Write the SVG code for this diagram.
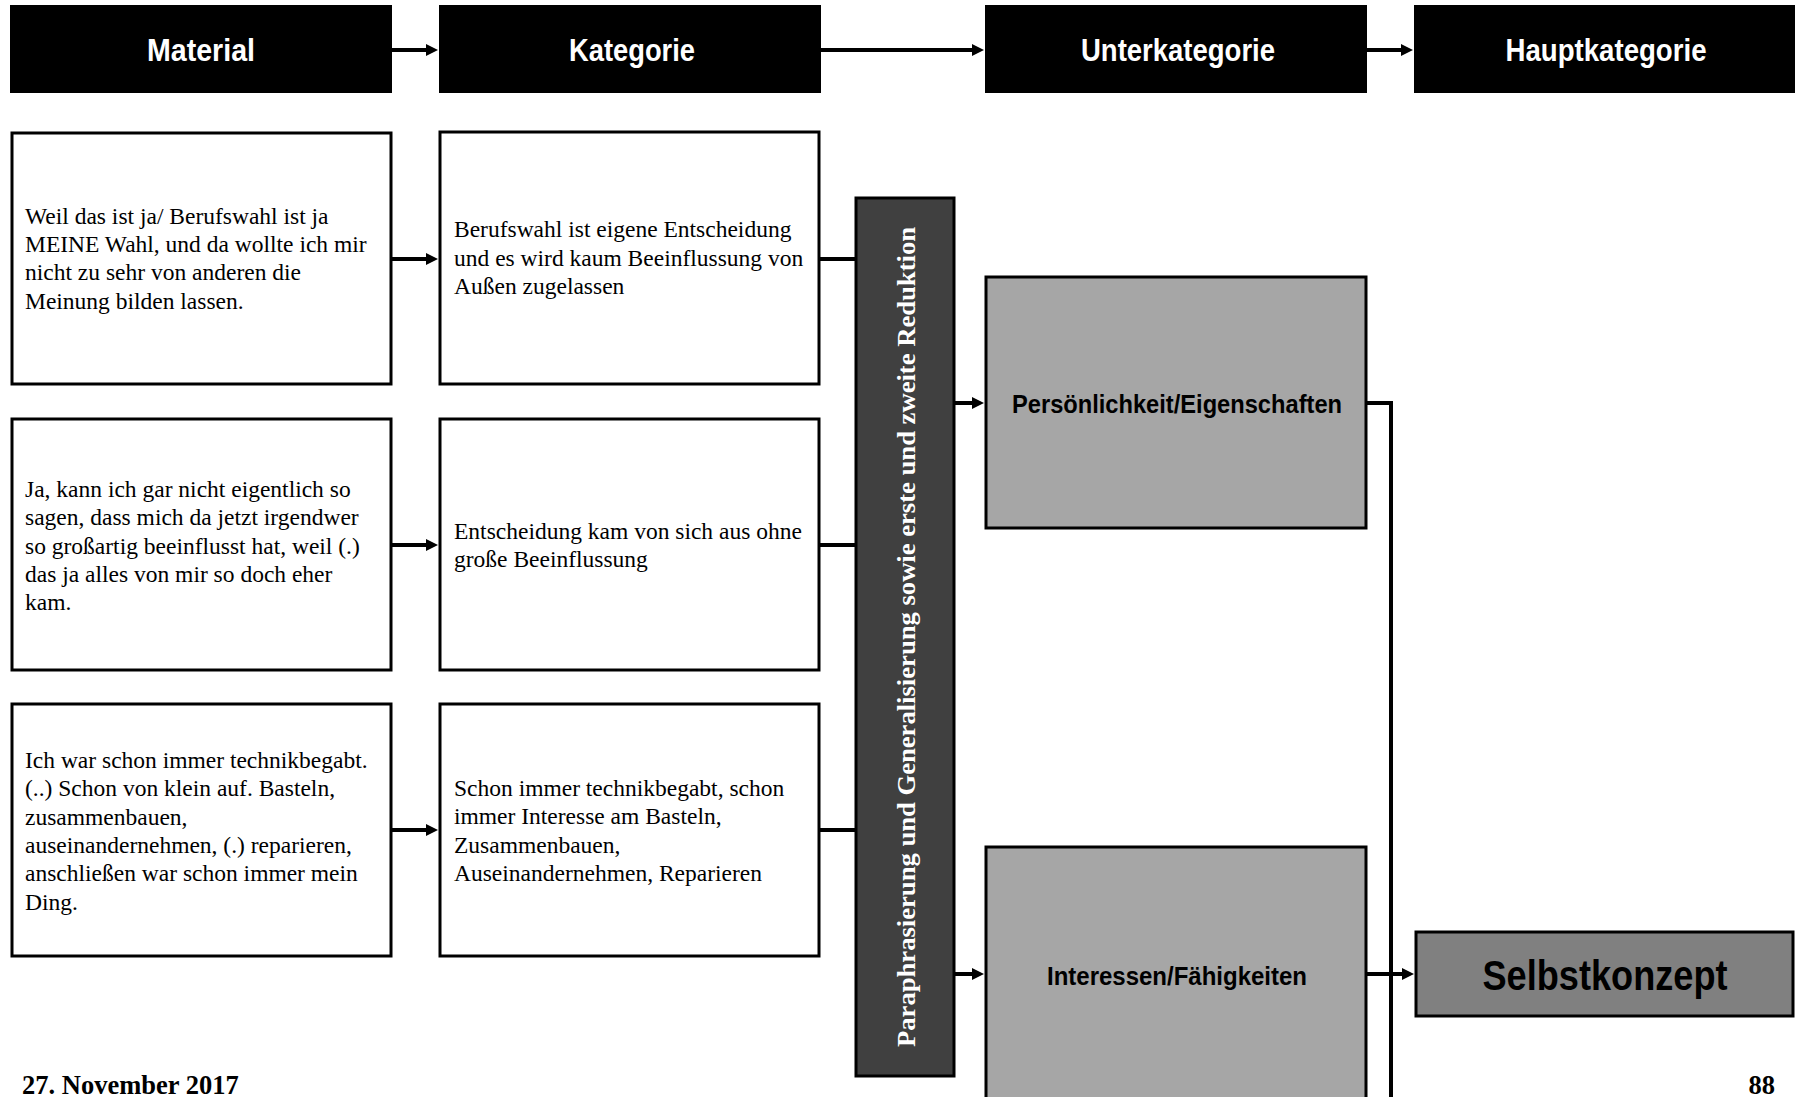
<svg xmlns="http://www.w3.org/2000/svg" width="1799" height="1097" viewBox="0 0 1799 1097">
  <style>
    .hdr { fill: #000000; stroke: #000000; stroke-width: 2; }
    .hdr-t { font-family: "Liberation Sans", Arial, sans-serif; font-weight: bold; font-size: 32px; fill: #ffffff; text-anchor: middle; }
    .box { fill: #ffffff; stroke: #000000; stroke-width: 3; }
    .body { font-family: "Liberation Serif", "Times New Roman", serif; font-size: 23.5px; fill: #000000; }
    .sub { fill: #a6a6a6; stroke: #000000; stroke-width: 3; }
    .sub-t { font-family: "Liberation Sans", Arial, sans-serif; font-weight: bold; font-size: 25px; fill: #000000; text-anchor: middle; }
    .main { fill: #808080; stroke: #000000; stroke-width: 3; }
    .main-t { font-family: "Liberation Sans", Arial, sans-serif; font-weight: bold; font-size: 42px; fill: #000000; text-anchor: middle; }
    .bar { fill: #404040; stroke: #000000; stroke-width: 3; }
    .bar-t { font-family: "Liberation Serif", "Times New Roman", serif; font-weight: bold; font-size: 25px; fill: #ffffff; text-anchor: middle; }
    .foot { font-family: "Liberation Serif", "Times New Roman", serif; font-weight: bold; font-size: 26.5px; fill: #000000; }
    .wire { fill: none; stroke: #000000; stroke-width: 4; }
    .arrow { fill: none; stroke: #000000; stroke-width: 4; marker-end: url(#head); }
  </style>
  <defs>
    <marker id="head" viewBox="0 0 12 12" refX="3" refY="6" markerWidth="12" markerHeight="12" markerUnits="userSpaceOnUse" orient="auto">
      <path d="M0,0 L12,6 L0,12 z" fill="#000000"/>
    </marker>
  </defs>

  <rect width="1799" height="1097" fill="#ffffff"/>

  <!-- column headers -->
  <g id="hdr-material">
    <rect class="hdr" x="11" y="6" width="380" height="86"/>
    <text class="hdr-t" x="201" y="61" textLength="108" lengthAdjust="spacingAndGlyphs">Material</text>
  </g>
  <g id="hdr-kategorie">
    <rect class="hdr" x="440" y="6" width="380" height="86"/>
    <text class="hdr-t" x="632" y="61" textLength="126" lengthAdjust="spacingAndGlyphs">Kategorie</text>
  </g>
  <g id="hdr-unterkategorie">
    <rect class="hdr" x="986" y="6" width="380" height="86"/>
    <text class="hdr-t" x="1178" y="61" textLength="194" lengthAdjust="spacingAndGlyphs">Unterkategorie</text>
  </g>
  <g id="hdr-hauptkategorie">
    <rect class="hdr" x="1415" y="6" width="379" height="86"/>
    <text class="hdr-t" x="1606" y="61" textLength="201" lengthAdjust="spacingAndGlyphs">Hauptkategorie</text>
  </g>

  <!-- row 1 -->
  <g id="mat-1">
    <rect class="box" x="12" y="133" width="379" height="251"/>
    <text class="body" x="25">
      <tspan x="25" y="223.6">Weil das ist ja/ Berufswahl ist ja</tspan>
      <tspan x="25" y="251.9">MEINE Wahl, und da wollte ich mir</tspan>
      <tspan x="25" y="280.2">nicht zu sehr von anderen die</tspan>
      <tspan x="25" y="308.5">Meinung bilden lassen.</tspan>
    </text>
  </g>
  <g id="kat-1">
    <rect class="box" x="440" y="132" width="379" height="252"/>
    <text class="body" x="454">
      <tspan x="454" y="237.2">Berufswahl ist eigene Entscheidung</tspan>
      <tspan x="454" y="265.5">und es wird kaum Beeinflussung von</tspan>
      <tspan x="454" y="293.8">Außen zugelassen</tspan>
    </text>
  </g>

  <!-- row 2 -->
  <g id="mat-2">
    <rect class="box" x="12" y="419" width="379" height="251"/>
    <text class="body" x="25">
      <tspan x="25" y="497">Ja, kann ich gar nicht eigentlich so</tspan>
      <tspan x="25" y="525.3">sagen, dass mich da jetzt irgendwer</tspan>
      <tspan x="25" y="553.6">so großartig beeinflusst hat, weil (.)</tspan>
      <tspan x="25" y="581.9">das ja alles von mir so doch eher</tspan>
      <tspan x="25" y="610.2">kam.</tspan>
    </text>
  </g>
  <g id="kat-2">
    <rect class="box" x="440" y="419" width="379" height="251"/>
    <text class="body" x="454">
      <tspan x="454" y="539">Entscheidung kam von sich aus ohne</tspan>
      <tspan x="454" y="567.3">große Beeinflussung</tspan>
    </text>
  </g>

  <!-- row 3 -->
  <g id="mat-3">
    <rect class="box" x="12" y="704" width="379" height="252"/>
    <text class="body" x="25">
      <tspan x="25" y="768">Ich war schon immer technikbegabt.</tspan>
      <tspan x="25" y="796.3">(..) Schon von klein auf. Basteln,</tspan>
      <tspan x="25" y="824.6">zusammenbauen,</tspan>
      <tspan x="25" y="852.9">auseinandernehmen, (.) reparieren,</tspan>
      <tspan x="25" y="881.2">anschließen war schon immer mein</tspan>
      <tspan x="25" y="909.5">Ding.</tspan>
    </text>
  </g>
  <g id="kat-3">
    <rect class="box" x="440" y="704" width="379" height="252"/>
    <text class="body" x="454">
      <tspan x="454" y="796">Schon immer technikbegabt, schon</tspan>
      <tspan x="454" y="824.3">immer Interesse am Basteln,</tspan>
      <tspan x="454" y="852.6">Zusammenbauen,</tspan>
      <tspan x="454" y="880.9">Auseinandernehmen, Reparieren</tspan>
    </text>
  </g>

  <!-- reduction step -->
  <g id="reduktion">
    <rect class="bar" x="856" y="198" width="98" height="878"/>
    <text class="bar-t" transform="translate(915,637) rotate(-90)" x="0" y="0" textLength="820" lengthAdjust="spacingAndGlyphs">Paraphrasierung und Generalisierung sowie erste und zweite Reduktion</text>
  </g>

  <!-- sub-categories -->
  <g id="sub-persoenlichkeit">
    <rect class="sub" x="986" y="277" width="380" height="251"/>
    <text class="sub-t" x="1177" y="413" textLength="330" lengthAdjust="spacingAndGlyphs">Persönlichkeit/Eigenschaften</text>
  </g>
  <g id="sub-interessen">
    <rect class="sub" x="986" y="847" width="380" height="270"/>
    <text class="sub-t" x="1177" y="985" textLength="260" lengthAdjust="spacingAndGlyphs">Interessen/Fähigkeiten</text>
  </g>

  <!-- main category -->
  <g id="selbstkonzept">
    <rect class="main" x="1416" y="932" width="377" height="84"/>
    <text class="main-t" x="1605" y="990" textLength="245" lengthAdjust="spacingAndGlyphs">Selbstkonzept</text>
  </g>

  <!-- page footer -->
  <text class="foot" x="22" y="1094">27. November 2017</text>
  <text class="foot" x="1775" y="1094" text-anchor="end">88</text>

  <!-- connectors -->
  <g id="connectors">
    <line class="arrow" x1="391" y1="50" x2="429" y2="50"/>
    <line class="arrow" x1="820" y1="50" x2="975" y2="50"/>
    <line class="arrow" x1="1366" y1="50" x2="1404" y2="50"/>

    <line class="arrow" x1="391" y1="259" x2="429" y2="259"/>
    <line class="arrow" x1="391" y1="545" x2="429" y2="545"/>
    <line class="arrow" x1="391" y1="830" x2="429" y2="830"/>

    <line class="wire" x1="819" y1="259" x2="856" y2="259"/>
    <line class="wire" x1="819" y1="545" x2="856" y2="545"/>
    <line class="wire" x1="819" y1="830" x2="856" y2="830"/>

    <line class="arrow" x1="954" y1="403" x2="975" y2="403"/>
    <line class="arrow" x1="954" y1="974" x2="975" y2="974"/>

    <polyline class="wire" points="1366,403 1391,403 1391,1100"/>
    <line class="arrow" x1="1366" y1="974" x2="1405" y2="974"/>
  </g>
</svg>
